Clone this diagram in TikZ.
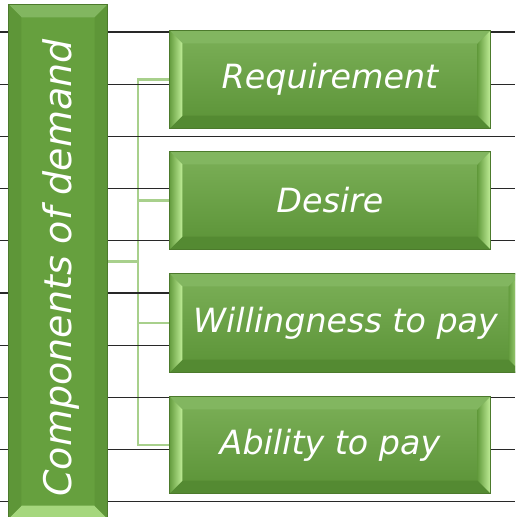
\documentclass[tikz,border=0pt]{standalone}
\usepackage{fontspec}
\setmainfont{DejaVu Sans}
\usetikzlibrary{calc}

\pgfdeclarelayer{background}
\pgfsetlayers{background,main}

\definecolor{boxtop}{RGB}{124,176,88}
\definecolor{boxbot}{RGB}{90,146,54}
\definecolor{boxedge}{RGB}{76,122,44}
\definecolor{bevlight}{RGB}{192,238,152}
\definecolor{bevmid}{RGB}{100,156,62}
\definecolor{bevtop}{RGB}{130,182,96}
\definecolor{bevbot}{RGB}{84,138,50}
\definecolor{compfill}{RGB}{102,160,62}
\definecolor{compside}{RGB}{94,150,56}
\definecolor{linkgreen}{RGB}{168,208,140}
\definecolor{ruleline}{RGB}{40,40,40}

\tikzset{
  box/.style={draw=boxedge, line width=0.8pt, top color=boxtop, bottom color=boxbot, inner sep=0pt},
  boxtext/.style={text=white, inner sep=0pt, font=\fontsize{25}{28}\selectfont\itshape},
  link/.style={draw=linkgreen, line width=1.9pt},
  rule/.style={draw=ruleline, line width=0.9pt},
}

% bevelled edges of a component box
\newcommand{\bevel}[1]{%
  \fill[bevtop] (#1.north west) -- ($(#1.north west)+(13,13)$) -- ($(#1.north east)+(-13,13)$) -- (#1.north east) -- cycle;
  \fill[bevbot] (#1.south west) -- ($(#1.south west)+(13,-13)$) -- ($(#1.south east)+(-13,-13)$) -- (#1.south east) -- cycle;
  \shade[left color=bevmid, right color=bevlight] (#1.north west) -- ($(#1.north west)+(13,13)$) -- ($(#1.south west)+(13,-13)$) -- (#1.south west) -- cycle;
  \shade[left color=bevmid, right color=bevlight] (#1.north east) -- ($(#1.north east)+(-13,13)$) -- ($(#1.south east)+(-13,-13)$) -- (#1.south east) -- cycle;
  \draw[boxedge, line width=0.8pt] (#1.north west) rectangle (#1.south east);
}

\begin{document}
\begin{tikzpicture}[x=0.75pt,y=0.75pt,yscale=-1,xscale=1]
  \clip (0,0) rectangle (515,517);

  \coordinate (trunk) at (138,0);
  \path (58,261.5) coordinate (compc) (330,79.5) coordinate (reqc) (330,200.5) coordinate (desc)
        (345.5,323) coordinate (willc) (330,445) coordinate (ablc);

  % big label box on the left
  \node[box, top color=compfill, bottom color=compfill, minimum width=73.5pt, minimum height=384.75pt] (comp) at (compc) {};
  \fill[bevtop] (comp.north west) -- ($(comp.north west)+(13,13)$) -- ($(comp.north east)+(-13,13)$) -- (comp.north east) -- cycle;
  \fill[bevlight!70!compfill] (comp.south west) -- ($(comp.south west)+(13,-13)$) -- ($(comp.south east)+(-13,-13)$) -- (comp.south east) -- cycle;
  \fill[compside] (comp.north west) -- ($(comp.north west)+(13,13)$) -- ($(comp.south west)+(13,-13)$) -- (comp.south west) -- cycle;
  \fill[compside] (comp.north east) -- ($(comp.north east)+(-13,13)$) -- ($(comp.south east)+(-13,-13)$) -- (comp.south east) -- cycle;
  \draw[boxedge, line width=0.8pt] (comp.north west) rectangle (comp.south east);
  \node[boxtext, font=\fontsize{28.5}{32}\selectfont\itshape] (comptext) at (61,268) {\rotatebox{90}{Components of demand}};

  % the four components
  \node[box, minimum width=240pt, minimum height=72.75pt] (req) at (reqc) {};
  \node[box, minimum width=240pt, minimum height=72.75pt] (des) at (desc) {};
  \node[box, minimum width=263.25pt, minimum height=73.5pt] (will) at (willc) {};
  \node[box, minimum width=240pt, minimum height=72pt] (abl) at (ablc) {};
  \foreach \b in {req,des,will,abl} {\bevel{\b}}

  % Text Node
  \node[boxtext] (reqtext) at (reqc) {Requirement};
  \node[boxtext] (destext) at (desc) {Desire};
  \node[boxtext] (willtext) at (willc) {Willingness to pay};
  \node[boxtext] (abltext) at (ablc) {Ability to pay};

  \begin{pgfonlayer}{background}
    \fill[white] (0,0) rectangle (515,517);
    % links from the label box to each component
    \draw[link] (req.west) -- (req.west -| trunk) -- (abl.west -| trunk) -- (abl.west);
    \draw[link] (des.west) -- (des.west -| trunk);
    \draw[link] (will.west) -- (will.west -| trunk);
    \draw[link] (comp.east) -- (comp.east -| trunk);
    % ruled lines
    \foreach \y in {0,...,9}
      \draw[rule] (0,{32+52.2*\y}) -- (515,{32+52.2*\y});
  \end{pgfonlayer}
\end{tikzpicture}
\end{document}
